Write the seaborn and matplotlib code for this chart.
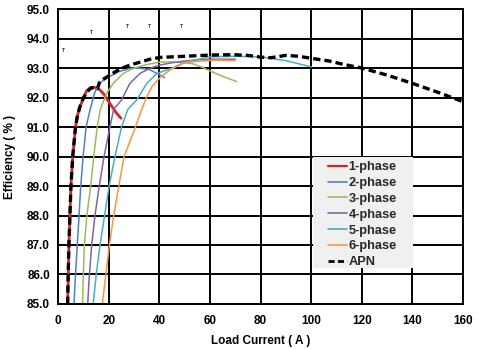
import matplotlib
matplotlib.use("Agg")
import matplotlib.pyplot as plt
from matplotlib.lines import Line2D
from matplotlib.patches import Rectangle
import seaborn as sns

# ---------------- data ----------------
apn_x = [3.7, 3.9, 4.2, 4.6, 5.0, 5.7, 6.8, 7.6, 8.6, 10.0, 11.5, 13.0, 14.5, 15.5, 16.2,
         17.8, 20.4, 24.4, 28.3, 32.3, 36.3, 40.2, 45, 50, 55, 60, 65, 70, 75, 80, 84,
         90, 95, 100, 107, 113, 120, 130, 140, 150, 160]
apn_y = [85.0, 86.0, 87.0, 88.0, 89.0, 90.0, 91.0, 91.4, 91.7, 92.0, 92.2, 92.33, 92.32, 92.3, 92.5,
         92.62, 92.76, 92.97, 93.1, 93.2, 93.3, 93.36, 93.38, 93.4, 93.42, 93.44, 93.45, 93.45, 93.43, 93.37, 93.35,
         93.43, 93.4, 93.33, 93.24, 93.12, 93.0, 92.76, 92.48, 92.18, 91.86]

p1_x = [3.7, 4.2, 4.6, 5.0, 5.7, 6.8, 7.6, 8.6, 10.0, 11.2, 12.5, 13.8, 15.8, 17.8, 20.4, 23.1, 24.8]
p1_y = [85.0, 87.0, 88.0, 89.0, 90.0, 91.0, 91.4, 91.7, 92.0, 92.23, 92.32, 92.35, 92.31, 92.14, 91.8, 91.46, 91.3]

p2_x = [6.2, 6.8, 7.5, 8.2, 8.8, 9.8, 11.0, 12.6, 14.3, 15.8, 17.1, 20, 24, 28, 32, 36, 39, 42]
p2_y = [85.0, 86.0, 87.0, 88.0, 88.9, 90.0, 91.0, 91.6, 92.14, 92.42, 92.54, 92.7, 92.88, 92.98, 93.0, 92.95, 92.82, 92.68]

p3_x = [9.6, 9.9, 10.3, 11.3, 12.8, 14.0, 15.4, 16.6, 19.1, 21.7, 25.7, 29.6, 35, 40, 45, 50, 53.3, 57, 60, 65, 70.5]
p3_y = [85.0, 86.0, 87.0, 88.0, 89.0, 90.0, 91.0, 91.6, 92.14, 92.48, 92.82, 92.99, 93.12, 93.2, 93.21, 93.19, 93.14, 93.02, 92.9, 92.72, 92.54]

p4_x = [11.6, 12.3, 13.2, 14.5, 16.2, 18.1, 20.4, 21.9, 25, 28.3, 32.3, 36.2, 40, 45, 50, 55, 62, 70]
p4_y = [85.0, 86.0, 87.0, 88.0, 89.0, 90.0, 91.0, 91.6, 91.92, 92.48, 92.82, 92.99, 93.1, 93.18, 93.24, 93.28, 93.3, 93.3]

p5_x = [13.8, 15.0, 16.5, 18.3, 20.1, 22.4, 25, 27.5, 31, 35, 39, 45, 50, 60, 70, 80, 90, 100]
p5_y = [85.0, 86.0, 87.0, 88.0, 89.0, 90.0, 91.0, 91.6, 91.92, 92.48, 92.82, 93.0, 93.2, 93.38, 93.4, 93.38, 93.25, 93.04]

p6_x = [17.4, 18.8, 20.2, 21.9, 23.9, 26, 30.5, 33, 34.8, 37, 40.5, 44, 49.4, 55, 62.6, 69.8]
p6_y = [85.0, 86.0, 87.0, 88.0, 89.0, 90.0, 91.0, 91.6, 92.0, 92.37, 92.7, 92.93, 93.16, 93.23, 93.27, 93.25]

series_labels = ["1-phase", "2-phase", "3-phase", "4-phase", "5-phase", "6-phase", "APN"]
x_ticks = [0, 20, 40, 60, 80, 100, 120, 140, 160]
y_ticks = [85.0, 86.0, 87.0, 88.0, 89.0, 90.0, 91.0, 92.0, 93.0, 94.0, 95.0]

# small "T" marks seen at the top of the plot area
t_x = [1.9, 13.3, 27.2, 35.9, 48.5]
t_y = [93.6, 94.22, 94.42, 94.42, 94.42]

# ---------------- styling ----------------
sns.set_theme(style="white")
plt.rcParams["font.family"] = ["Liberation Sans", "DejaVu Sans"]
plt.rcParams["font.weight"] = "bold"

fig = plt.figure(figsize=(4.79, 3.49), dpi=100)
ax = fig.add_axes([0.1217, 0.129, 0.8449, 0.845])

colors = ["#d8232a", "#4f81bd", "#9bbb59", "#8064a2", "#4bacc6", "#f79646"]
phase_x = [p1_x, p2_x, p3_x, p4_x, p5_x, p6_x]
phase_y = [p1_y, p2_y, p3_y, p4_y, p5_y, p6_y]
widths = [2.0, 1.1, 1.1, 1.1, 1.1, 1.1]

for xs, ys, c, lw in zip(phase_x, phase_y, colors, widths):
    sns.lineplot(x=xs, y=ys, ax=ax, color=c, linewidth=lw, estimator=None, sort=False)

sns.lineplot(x=apn_x, y=apn_y, ax=ax, color="black", linewidth=2.4,
             estimator=None, sort=False)
ax.lines[-1].set_linestyle((0, (2.2, 1.2)))

for tx, ty in zip(t_x, t_y):
    ax.text(tx, ty, "T", fontsize=3.5, fontweight="bold", ha="center", va="center")

ax.set_xlim(0, 160)
ax.set_ylim(85, 95)
ax.set_xticks(x_ticks)
ax.set_xticklabels([str(v) for v in x_ticks])
ax.set_yticks(y_ticks)
ax.set_yticklabels([f"{v:.1f}" for v in y_ticks])
ax.grid(True, color="black", linewidth=1.4)
ax.set_axisbelow(True)
for s in ax.spines.values():
    s.set_color("black")
    s.set_linewidth(1.4)
ax.tick_params(axis="both", length=0, labelsize=8.5, colors="black")
ax.tick_params(axis="y", pad=6)
ax.tick_params(axis="x", pad=8)
for lab in ax.get_xticklabels() + ax.get_yticklabels():
    lab.set_fontweight("bold")

ax.set_xlabel("Load Current ( A )", fontsize=8.5, fontweight="bold", color="black", labelpad=6)
ax.set_ylabel("Efficiency ( % )", fontsize=8.5, fontweight="bold", color="black", labelpad=8)

# legend background box (light grey, no border)
ax.add_patch(Rectangle((0.629, 0.122), 0.247, 0.376, transform=ax.transAxes,
                       facecolor="#f0f0f0", edgecolor="none", zorder=4))

leg_handles = []
for c, lw in zip(colors, widths):
    leg_handles.append(Line2D([], [], color=c, linewidth=1.6 if lw >= 2 else 1.2))
leg_handles.append(Line2D([], [], color="black", linewidth=2.0, linestyle=(0, (2.2, 1.2))))

leg = ax.legend(leg_handles, series_labels, loc="upper left",
                bbox_to_anchor=(0.666, 0.484), borderaxespad=0, borderpad=0,
                frameon=False, fontsize=9.2,
                handlelength=1.5, handletextpad=0.12, labelspacing=0.3)
leg.set_zorder(5)
for t in leg.get_texts():
    t.set_fontweight("bold")

fig.savefig("out.png", dpi=100)
